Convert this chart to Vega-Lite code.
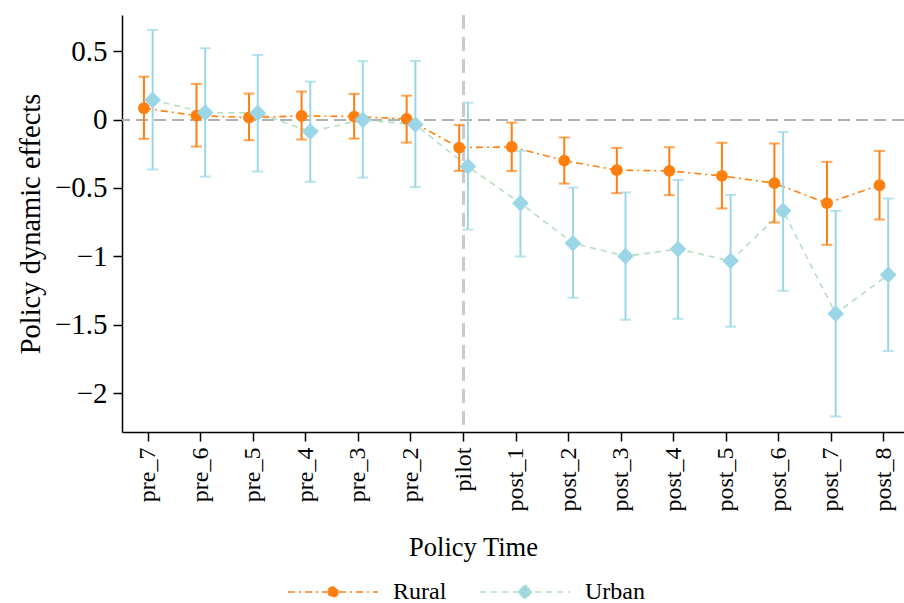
{
  "$schema": "https://vega.github.io/schema/vega-lite/v6.json",
  "width": 782,
  "height": 417,
  "autosize": {"type": "none"},
  "padding": {"left": 122, "top": 15, "right": 0, "bottom": 171},
  "background": "white",
  "data": {"values": [
    {"t": "pre_7", "series": "Rural", "b": 0.083, "lo": -0.141, "hi": 0.314},
    {"t": "pre_6", "series": "Rural", "b": 0.029, "lo": -0.197, "hi": 0.261},
    {"t": "pre_5", "series": "Rural", "b": 0.015, "lo": -0.151, "hi": 0.190},
    {"t": "pre_4", "series": "Rural", "b": 0.027, "lo": -0.146, "hi": 0.205},
    {"t": "pre_3", "series": "Rural", "b": 0.022, "lo": -0.139, "hi": 0.188},
    {"t": "pre_2", "series": "Rural", "b": 0.005, "lo": -0.168, "hi": 0.175},
    {"t": "pilot", "series": "Rural", "b": -0.205, "lo": -0.375, "hi": -0.039},
    {"t": "post_1", "series": "Rural", "b": -0.200, "lo": -0.377, "hi": -0.022},
    {"t": "post_2", "series": "Rural", "b": -0.300, "lo": -0.468, "hi": -0.131},
    {"t": "post_3", "series": "Rural", "b": -0.370, "lo": -0.538, "hi": -0.207},
    {"t": "post_4", "series": "Rural", "b": -0.375, "lo": -0.553, "hi": -0.202},
    {"t": "post_5", "series": "Rural", "b": -0.412, "lo": -0.650, "hi": -0.170},
    {"t": "post_6", "series": "Rural", "b": -0.465, "lo": -0.753, "hi": -0.175},
    {"t": "post_7", "series": "Rural", "b": -0.611, "lo": -0.916, "hi": -0.309},
    {"t": "post_8", "series": "Rural", "b": -0.480, "lo": -0.731, "hi": -0.229},
    {"t": "pre_7", "series": "Urban", "b": 0.144, "lo": -0.365, "hi": 0.656},
    {"t": "pre_6", "series": "Urban", "b": 0.051, "lo": -0.417, "hi": 0.522},
    {"t": "pre_5", "series": "Urban", "b": 0.049, "lo": -0.380, "hi": 0.473},
    {"t": "pre_4", "series": "Urban", "b": -0.088, "lo": -0.455, "hi": 0.278},
    {"t": "pre_3", "series": "Urban", "b": -0.002, "lo": -0.424, "hi": 0.427},
    {"t": "pre_2", "series": "Urban", "b": -0.036, "lo": -0.494, "hi": 0.429},
    {"t": "pilot", "series": "Urban", "b": -0.343, "lo": -0.804, "hi": 0.124},
    {"t": "post_1", "series": "Urban", "b": -0.611, "lo": -1.001, "hi": -0.229},
    {"t": "post_2", "series": "Urban", "b": -0.904, "lo": -1.303, "hi": -0.497},
    {"t": "post_3", "series": "Urban", "b": -0.999, "lo": -1.464, "hi": -0.533},
    {"t": "post_4", "series": "Urban", "b": -0.947, "lo": -1.457, "hi": -0.441},
    {"t": "post_5", "series": "Urban", "b": -1.033, "lo": -1.515, "hi": -0.550},
    {"t": "post_6", "series": "Urban", "b": -0.667, "lo": -1.252, "hi": -0.090},
    {"t": "post_7", "series": "Urban", "b": -1.420, "lo": -2.171, "hi": -0.667},
    {"t": "post_8", "series": "Urban", "b": -1.135, "lo": -1.693, "hi": -0.577}
  ]},
  "encoding": {
    "x": {
      "field": "t", "type": "nominal",
      "sort": ["pre_7", "pre_6", "pre_5", "pre_4", "pre_3", "pre_2", "pilot", "post_1", "post_2", "post_3", "post_4", "post_5", "post_6", "post_7", "post_8"],
      "scale": {"type": "band", "range": [0, 788.1], "paddingInner": 0, "paddingOuter": 0},
      "axis": {"title": "Policy Time", "labelAngle": -90, "labelFontSize": 24, "titleFontSize": 26.5, "titlePadding": 23, "labelPadding": 6, "titleX": 351, "titleAnchor": "middle", "titleAlign": "center"}
    },
    "y": {
      "field": "b", "type": "quantitative",
      "scale": {"domain": [-2.285, 0.765], "nice": false, "zero": false},
      "axis": {"title": "Policy dynamic effects", "values": [-2, -1.5, -1, -0.5, 0, 0.5], "format": ".2~f", "labelFontSize": 29, "titleFontSize": 28.5, "labelPadding": 6, "titlePadding": 9}
    }
  },
  "layer": [
    {
      "mark": {"type": "rule", "color": "#b0b0b0", "strokeDash": [12, 6], "strokeWidth": 1.2},
      "encoding": {"x": null, "y": {"datum": 0}}
    },
    {
      "mark": {"type": "rule", "color": "#cacaca", "strokeDash": [14, 8], "strokeWidth": 2.5},
      "encoding": {"x": {"datum": "pilot", "type": "nominal"}, "y": null}
    },
    {
      "mark": {"type": "line", "strokeWidth": 1.6},
      "encoding": {
        "xOffset": {"field": "series", "type": "nominal", "scale": {"type": "point", "range": [17.6, 35.0]}},
        "stroke": {
          "field": "series", "type": "nominal",
          "scale": {"domain": ["Rural", "Urban"], "range": ["#ff7f0e", "#b5dfc0"]},
          "legend": {
            "orient": "none", "legendX": 165, "legendY": 531, "direction": "horizontal",
            "title": null, "padding": 0, "symbolSize": 8100, "labelFontSize": 24, "labelOffset": 14,
            "columnPadding": 30, "symbolStrokeWidth": 1.5,
            "encode": {
              "symbols": {
                "update": {
                  "shape": {"signal": "datum.value === 'Rural' ? 'M-1,0H1M0.11,0A0.11,0.11,0,1,1,-0.11,0A0.11,0.11,0,1,1,0.11,0Z' : 'M-1,0H1M0,-0.16L0.16,0L0,0.16L-0.16,0Z'"},
                  "size": {"value": 8100},
                  "fill": {"signal": "datum.value === 'Rural' ? '#ff7f0e' : '#9ad6e6'"},
                  "stroke": {"signal": "datum.value === 'Rural' ? '#ff7f0e' : '#b5dfc0'"},
                  "strokeDash": {"signal": "datum.value === 'Rural' ? [7, 4, 2, 4] : [6, 5]"},
                  "strokeWidth": {"value": 1.5},
                  "opacity": {"value": 1},
                  "fillOpacity": {"value": 1},
                  "strokeOpacity": {"value": 1}
                }
              }
            }
          }
        },
        "strokeDash": {"field": "series", "type": "nominal", "scale": {"domain": ["Rural", "Urban"], "range": [[7, 4, 2, 4], [6, 5]]}}
      }
    },
    {
      "mark": {"type": "rule", "strokeWidth": 2},
      "encoding": {
        "xOffset": {"field": "series", "type": "nominal", "scale": {"type": "point", "range": [17.6, 35.0]}},
        "y": {"field": "lo", "type": "quantitative"},
        "y2": {"field": "hi"},
        "color": {"field": "series", "type": "nominal", "scale": {"domain": ["Rural", "Urban"], "range": ["#ff7f0e", "#9ad6e6"]}}
      }
    },
    {
      "mark": {"type": "tick", "size": 11, "thickness": 2},
      "encoding": {
        "xOffset": {"field": "series", "type": "nominal", "scale": {"type": "point", "range": [17.6, 35.0]}},
        "y": {"field": "lo", "type": "quantitative"},
        "color": {"field": "series", "type": "nominal"}
      }
    },
    {
      "mark": {"type": "tick", "size": 11, "thickness": 2},
      "encoding": {
        "xOffset": {"field": "series", "type": "nominal", "scale": {"type": "point", "range": [17.6, 35.0]}},
        "y": {"field": "hi", "type": "quantitative"},
        "color": {"field": "series", "type": "nominal"}
      }
    },
    {
      "transform": [{"filter": "datum.series === 'Rural'"}],
      "mark": {"type": "point", "filled": true, "opacity": 1, "shape": "circle", "size": 140},
      "encoding": {
        "xOffset": {"field": "series", "type": "nominal", "scale": {"type": "point", "range": [17.6, 35.0]}},
        "color": {"field": "series", "type": "nominal"}
      }
    },
    {
      "transform": [{"filter": "datum.series === 'Urban'"}],
      "mark": {"type": "point", "filled": true, "opacity": 1, "shape": "diamond", "size": 280},
      "encoding": {
        "xOffset": {"field": "series", "type": "nominal", "scale": {"type": "point", "range": [17.6, 35.0]}},
        "color": {"field": "series", "type": "nominal"}
      }
    }
  ],
  "config": {
    "view": {"stroke": null},
    "font": "Liberation Serif",
    "axis": {
      "grid": false, "domainColor": "black", "domainWidth": 1.5, "tickColor": "black", "tickWidth": 1.5, "tickSize": 9,
      "labelColor": "black", "titleColor": "black", "labelFont": "Liberation Serif", "titleFont": "Liberation Serif", "titleFontWeight": "normal"
    },
    "legend": {"labelFont": "Liberation Serif", "labelColor": "black"}
  }
}
